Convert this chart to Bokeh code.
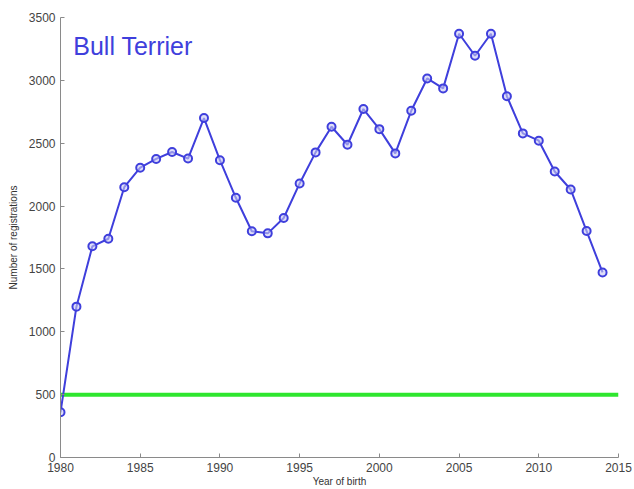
from bokeh.plotting import figure
from bokeh.models import Range1d, FixedTicker, Label
from bokeh.embed import file_html
from bokeh.resources import INLINE

years = list(range(1980, 2015))
registrations = [360, 1200, 1680, 1740, 2150, 2305, 2375, 2430, 2378, 2700,
                 2365, 2066, 1800, 1783, 1905, 2180, 2427, 2631, 2488, 2772,
                 2612, 2419, 2758, 3015, 2936, 3371, 3196, 3371, 2873, 2578,
                 2520, 2275, 2132, 1801, 1472]
threshold_x = [1980, 2015]
threshold_y = [500, 500]
x_ticks = [1980, 1985, 1990, 1995, 2000, 2005, 2010, 2015]
y_ticks = [0, 500, 1000, 1500, 2000, 2500, 3000, 3500]

BLUE = "#3f3fdc"
GREEN = "#2ee62e"
FONT = "Liberation Sans"

p = figure(width=634, height=489, output_backend="svg", toolbar_location=None,
           x_range=Range1d(1980, 2015), y_range=Range1d(0, 3500),
           min_border_left=60, min_border_right=16, min_border_top=17, min_border_bottom=32)
p.outline_line_color = None
p.grid.visible = False

p.line(threshold_x, threshold_y, line_color=GREEN, line_width=4)
p.line(years, registrations, line_color=BLUE, line_width=2)
p.scatter(years, registrations, size=8, marker="circle", fill_color="#c8c8f4",
          fill_alpha=0.6, line_color=BLUE, line_width=2)

for ax in (p.xaxis[0], p.yaxis[0]):
    ax.axis_line_color = "#8a8a8a"
    ax.major_tick_line_color = "#8a8a8a"
    ax.major_tick_in = 4
    ax.major_tick_out = 0
    ax.minor_tick_line_color = None
    ax.major_label_text_font = FONT
    ax.major_label_text_font_size = "12px"
    ax.major_label_text_color = "#444444"
    ax.axis_label_text_font = FONT
    ax.axis_label_text_font_size = "10px"
    ax.axis_label_text_font_style = "normal"
    ax.axis_label_text_color = "#333333"

p.xaxis.ticker = FixedTicker(ticks=x_ticks)
p.yaxis.ticker = FixedTicker(ticks=y_ticks)
p.xaxis.axis_label = "Year of birth"
p.yaxis.axis_label = "Number of registrations"
p.xaxis.major_label_standoff = 5
p.xaxis.axis_label_standoff = 1
p.yaxis.major_label_standoff = 5
p.yaxis.axis_label_standoff = 7

p.add_layout(Label(x=1980.8, y=3275, text="Bull Terrier", text_font=FONT,
                   text_font_size="25px", text_color=BLUE, text_baseline="alphabetic"))

open("out.html", "w").write(file_html(p, INLINE))
